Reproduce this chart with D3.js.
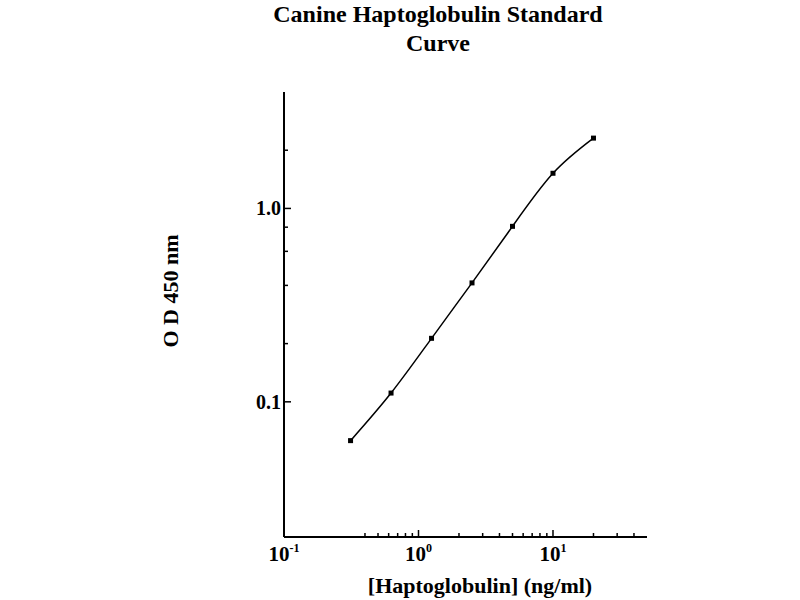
<!DOCTYPE html>
<html><head><meta charset="utf-8">
<script src="https://cdn.jsdelivr.net/npm/d3@7"></script>
<style>body{margin:0;background:#fff}svg{display:block}text{font-family:"Liberation Serif","DejaVu Serif",serif;font-weight:bold;fill:#000}</style>
</head><body>
<svg id="c" width="800" height="600"></svg>
<script>
const concentrations = [0.3125, 0.625, 1.25, 2.5, 5, 10, 20];
const odValues = [0.063, 0.111, 0.213, 0.412, 0.808, 1.52, 2.31];
const xMajorTicks = [0.1, 1, 10];
const xTickExponents = ["-1", "0", "1"];
const xMinorTicks = [0.4, 0.5, 0.6, 0.7, 0.8, 0.9, 2, 3, 4, 5, 6, 7, 8, 9, 20, 30, 40];
const yMajorTicks = [0.1, 1];
const yTickLabels = ["0.1", "1.0"];
const yMinorTicks = [0.2, 0.4, 0.6, 0.8, 2];
const titleLines = ["Canine Haptoglobulin Standard", "Curve"];
const xTitle = "[Haptoglobulin] (ng/ml)";
const yTitle = "O D 450 nm";

const svg = d3.select("#c");
const pLeft = 284, pRight = 647, pTop = 92, pBottom = 537;
const x = d3.scaleLog().domain([0.1, 50]).range([pLeft, pRight]);
const y = d3.scaleLog().domain([0.02, 4]).range([pBottom, pTop]);

svg.append("line").attr("x1", pLeft).attr("x2", pLeft).attr("y1", pTop).attr("y2", pBottom).attr("stroke", "#000").attr("stroke-width", 2);
svg.append("line").attr("x1", pLeft).attr("x2", pRight).attr("y1", pBottom).attr("y2", pBottom).attr("stroke", "#000").attr("stroke-width", 2);

svg.selectAll(".ymaj").data(yMajorTicks).enter().append("line")
  .attr("x1", pLeft).attr("x2", pLeft + 7).attr("y1", d => y(d)).attr("y2", d => y(d)).attr("stroke", "#000").attr("stroke-width", 1.5);
svg.selectAll(".ymin").data(yMinorTicks).enter().append("line")
  .attr("x1", pLeft).attr("x2", pLeft + 4).attr("y1", d => y(d)).attr("y2", d => y(d)).attr("stroke", "#000").attr("stroke-width", 1.5);
svg.selectAll(".ylab").data(yMajorTicks).enter().append("text")
  .attr("x", pLeft - 3).attr("y", d => y(d) + 7).attr("text-anchor", "end").attr("font-size", 20)
  .text((d, i) => yTickLabels[i]);

svg.selectAll(".xmaj").data(xMajorTicks).enter().append("line")
  .attr("x1", d => x(d)).attr("x2", d => x(d)).attr("y1", pBottom).attr("y2", pBottom - 7).attr("stroke", "#000").attr("stroke-width", 1.5);
svg.selectAll(".xmin").data(xMinorTicks).enter().append("line")
  .attr("x1", d => x(d)).attr("x2", d => x(d)).attr("y1", pBottom).attr("y2", pBottom - 4).attr("stroke", "#000").attr("stroke-width", 1.5);
const xl = svg.selectAll(".xlab").data(xMajorTicks).enter().append("text")
  .attr("x", d => x(d)).attr("y", 561).attr("text-anchor", "middle").attr("font-size", 21);
xl.append("tspan").text("10");
xl.append("tspan").attr("font-size", 12).attr("dy", -9).text((d, i) => xTickExponents[i]);

svg.selectAll(".title").data(titleLines).enter().append("text")
  .attr("x", 438).attr("y", (d, i) => 22 + i * 29).attr("text-anchor", "middle").attr("font-size", 24).text(d => d);
svg.append("text").attr("x", 480).attr("y", 593).attr("text-anchor", "middle").attr("font-size", 22).text(xTitle);
svg.append("text").attr("transform", "translate(178,291) rotate(-90)").attr("text-anchor", "middle").attr("font-size", 22).text(yTitle);

const pts = concentrations.map((c, i) => [x(c), y(odValues[i])]);
svg.append("path").attr("d", d3.line().curve(d3.curveNatural)(pts)).attr("fill", "none").attr("stroke", "#000").attr("stroke-width", 1.5);
svg.selectAll(".pt").data(pts).enter().append("rect")
  .attr("x", d => d[0] - 2.5).attr("y", d => d[1] - 2.5).attr("width", 5).attr("height", 5).attr("fill", "#000");
</script>
</body></html>
